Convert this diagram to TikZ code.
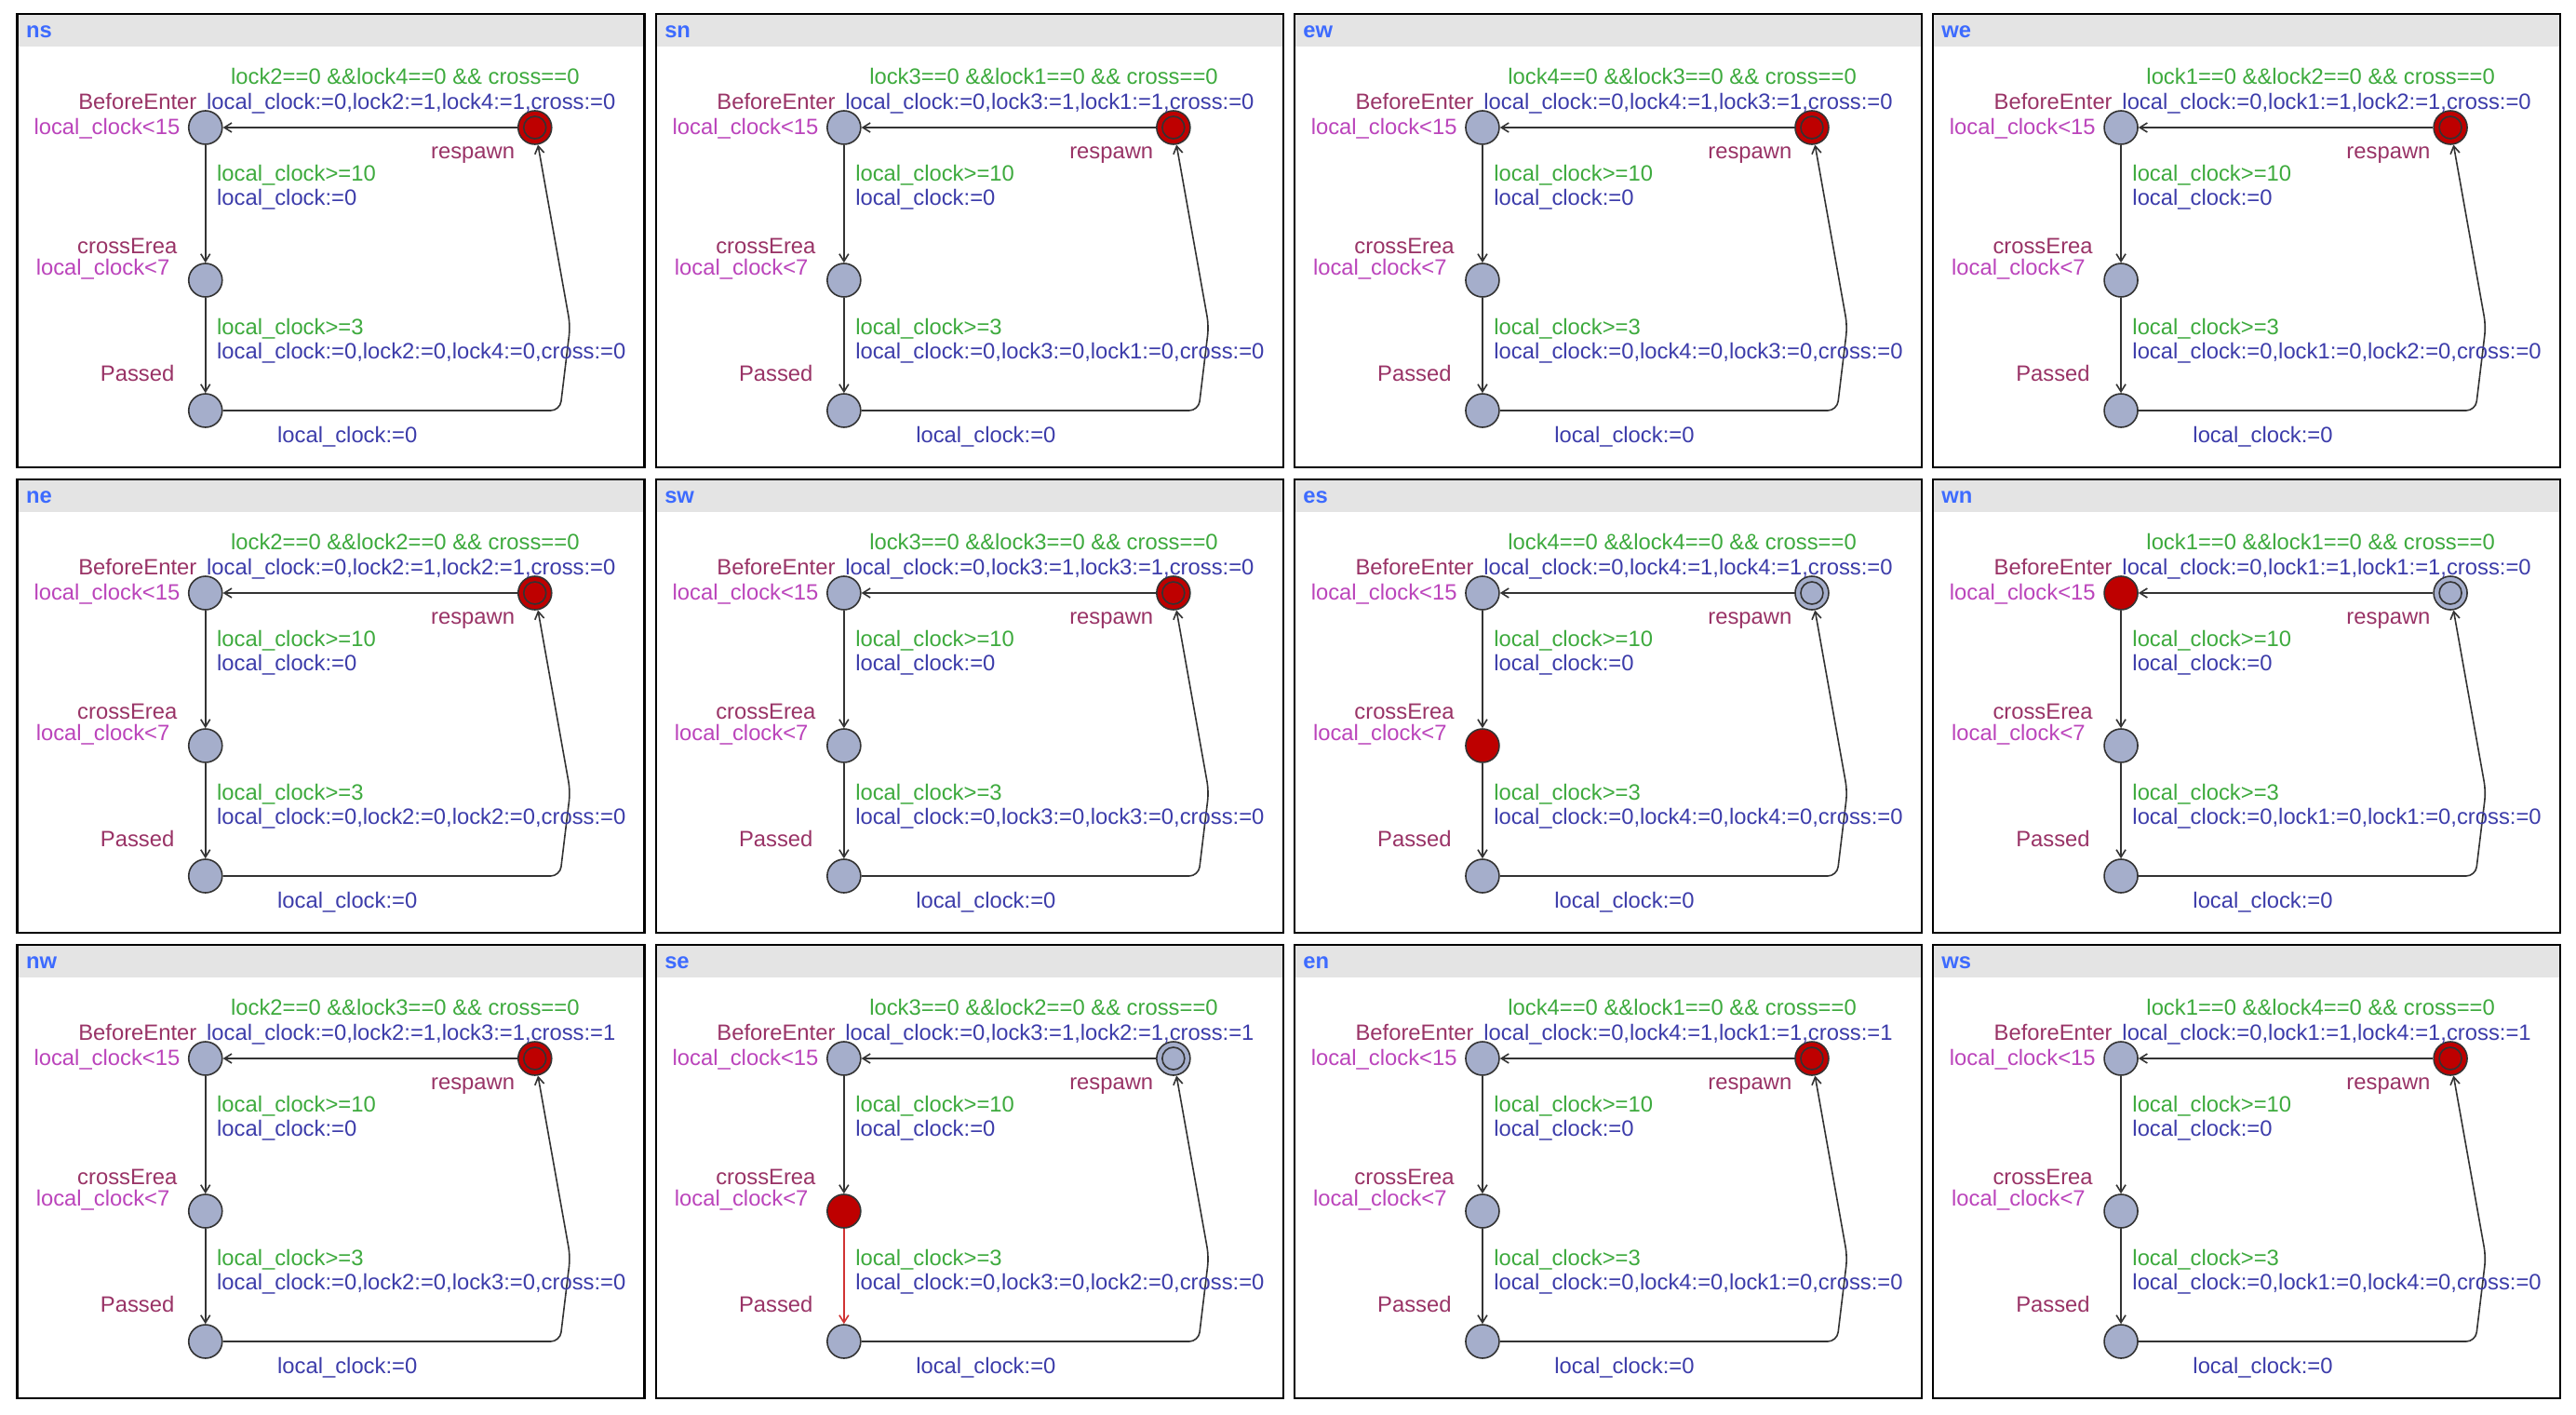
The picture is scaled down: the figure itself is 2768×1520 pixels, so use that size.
\documentclass[tikz,border=0pt]{standalone}
\usepackage{fontspec}
\setmainfont{Liberation Sans}
\usetikzlibrary{arrows.meta}
\definecolor{hdr}{HTML}{E4E4E4}
\definecolor{ttl}{HTML}{3D6BFF}
\definecolor{locfill}{HTML}{A5AECB}
\definecolor{actred}{HTML}{BE0000}
\definecolor{cgreen}{HTML}{3DAA3D}
\definecolor{cblue}{HTML}{3C3CAA}
\definecolor{cname}{HTML}{993366}
\definecolor{cinv}{HTML}{BB44BB}
\definecolor{edgecol}{HTML}{333333}
\definecolor{edgered}{HTML}{D03333}
\tikzset{
 loc/.style={circle, draw=edgecol, line width=0.8pt, minimum size=18pt, inner sep=0pt},
 befill/.style={fill=locfill}, cefill/.style={fill=locfill}, pafill/.style={fill=locfill}, rsfill/.style={fill=locfill},
 conn/.style={draw=edgecol, line width=0.8pt, -{Straight Barb[length=4pt,width=5pt]}},
 cepa/.style={},
 lbl/.style={inner sep=0pt, text height=0.72em, text depth=0pt, font=\fontsize{11.9pt}{13.5pt}\selectfont},
 grd/.style={lbl, text=cgreen, anchor=west},
 asg/.style={lbl, text=cblue, anchor=west},
 lname/.style={lbl, text=cname, anchor=east},
 inv/.style={lbl, text=cinv, anchor=east},
 panelbox/.style={draw=black, line width=1.3pt},
}
\newcommand\upanel[7]{%
\begin{scope}[shift={(#1,#2)},#7]
 \fill[hdr] (0,0) rectangle (674,35);
 \node[lbl, anchor=west, text=ttl, font=\fontsize{11.9pt}{13.5pt}\selectfont\bfseries] (#3-title) at (9,18) {#3};
 \draw[panelbox] (0,0) rectangle (674,487);
 \node[loc, befill] (#3-be) at (202,122) {};
 \node[loc, cefill] (#3-ce) at (202,286) {};
 \node[loc, pafill] (#3-pa) at (202,426) {};
 \node[loc, rsfill] (#3-rs) at (556,122) {};
 \draw[edgecol, line width=0.8pt] (#3-rs.center) circle[radius=6pt];
 \draw[conn] (#3-rs) -- (#3-be);
 \draw[conn] (#3-be) -- (#3-ce);
 \draw[conn, cepa] (#3-ce) -- (#3-pa);
 \draw[conn, rounded corners=5pt] (#3-pa) -- (583,426) -- (594,335) -- (#3-rs);
 \node[grd] (#3-g1) at (229,68) {lock#4==0 \&\&lock#5==0 \&\& cross==0};
 \node[asg] (#3-a1) at (203,95) {local\_clock:=0,lock#4:=1,lock#5:=1,cross:=#6};
 \node[lname] (#3-n1) at (193,95) {BeforeEnter};
 \node[inv] (#3-i1) at (175,122) {local\_clock<15};
 \node[lbl, text=cname, anchor=west] (#3-n4) at (444,148) {respawn};
 \node[grd] (#3-g2) at (214,172) {local\_clock>=10};
 \node[asg] (#3-a2) at (214,198) {local\_clock:=0};
 \node[lname] (#3-n2) at (172,250) {crossErea};
 \node[inv] (#3-i2) at (164,273) {local\_clock<7};
 \node[grd] (#3-g3) at (214,337) {local\_clock>=3};
 \node[asg] (#3-a3) at (214,363) {local\_clock:=0,lock#4:=0,lock#5:=0,cross:=0};
 \node[lname] (#3-n3) at (169,387) {Passed};
 \node[asg] (#3-a4) at (279,453) {local\_clock:=0};
\end{scope}}
\begin{document}
\begin{tikzpicture}[x=0.5pt,y=-0.5pt]
\useasboundingbox (0,0) rectangle (2768,1520);
\fill[white] (0,0) rectangle (2768,1520);
\upanel{18.75}{15}{ns}{2}{4}{0}{rsfill/.style={fill=actred}}
\upanel{704.85}{15}{sn}{3}{1}{0}{rsfill/.style={fill=actred}}
\upanel{1390.95}{15}{ew}{4}{3}{0}{rsfill/.style={fill=actred}}
\upanel{2077.05}{15}{we}{1}{2}{0}{rsfill/.style={fill=actred}}
\upanel{18.75}{515}{ne}{2}{2}{0}{rsfill/.style={fill=actred}}
\upanel{704.85}{515}{sw}{3}{3}{0}{rsfill/.style={fill=actred}}
\upanel{1390.95}{515}{es}{4}{4}{0}{cefill/.style={fill=actred}}
\upanel{2077.05}{515}{wn}{1}{1}{0}{befill/.style={fill=actred}}
\upanel{18.75}{1015}{nw}{2}{3}{1}{rsfill/.style={fill=actred}}
\upanel{704.85}{1015}{se}{3}{2}{1}{cefill/.style={fill=actred}, cepa/.style={draw=edgered}}
\upanel{1390.95}{1015}{en}{4}{1}{1}{rsfill/.style={fill=actred}}
\upanel{2077.05}{1015}{ws}{1}{4}{1}{rsfill/.style={fill=actred}}
\end{tikzpicture}
\end{document}
